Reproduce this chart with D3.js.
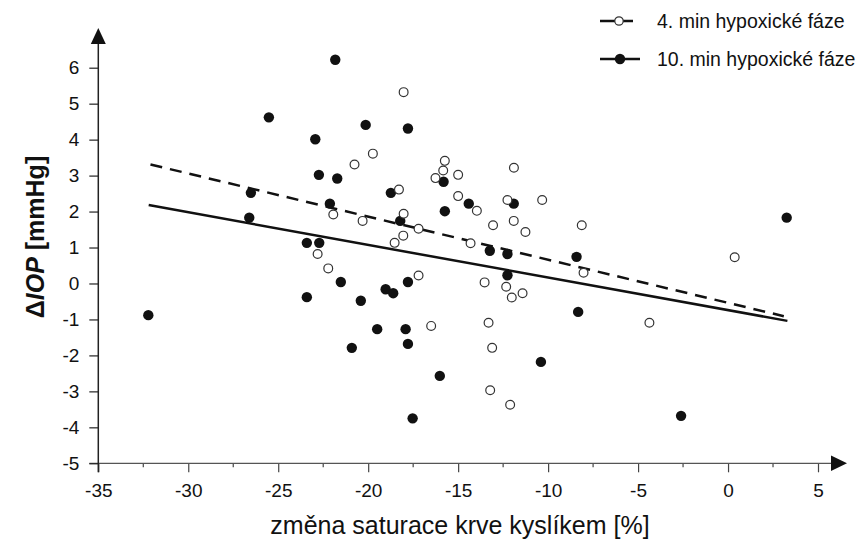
<!DOCTYPE html>
<html>
<head>
<meta charset="utf-8">
<script src="https://cdn.jsdelivr.net/npm/d3@7"></script>
<style>
  body { margin: 0; background: #fff; }
  svg text { font-family: "Liberation Sans", Arial, sans-serif; fill: #111; }
</style>
</head>
<body>
<div id="chart"></div>
<script>
// 4. min hypoxicke faze (open circles)
var x4 = [-18.03, -19.74, -20.76, -15.74, -15.83, -16.26, -18.29, -21.94, -20.31, -18.03,
          -17.2, -18.05, -22.81, -18.53, -22.22, -17.2, -16.5, -15.0, -11.9, -15.0,
          -13.96, -12.26, -10.33, -13.06, -11.91, -11.26, -8.13, -14.31, -8.03, -13.53,
          -12.33, -11.42, -12.02, -13.31, -13.11, -13.22, -12.11, 0.37, -4.37];
var y4 = [5.32, 3.61, 3.31, 3.41, 3.14, 2.93, 2.61, 1.92, 1.74, 1.94,
          1.52, 1.33, 0.82, 1.13, 0.42, 0.22, -1.18, 3.02, 3.22, 2.43,
          2.02, 2.32, 2.32, 1.62, 1.74, 1.43, 1.62, 1.12, 0.30, 0.03,
          -0.09, -0.27, -0.39, -1.09, -1.79, -2.97, -3.37, 0.73, -1.09];

// 10. min hypoxicke faze (filled circles)
var x10 = [-32.22, -26.52, -26.61, -25.52, -21.83, -20.14, -17.79, -22.94, -15.81, -22.74,
           -21.72, -18.74, -22.13, -18.22, -15.74, -23.41, -22.72, -21.52, -23.41, -19.03,
           -18.61, -17.79, -20.41, -19.5, -17.92, -17.79, -20.91, -16.02, -17.53, -14.41,
           -11.91, -13.24, -12.26, -8.42, -12.26, -8.33, -10.4, 3.26, -2.61];
var y10 = [-0.88, 2.52, 1.83, 4.62, 6.22, 4.41, 4.31, 4.01, 2.83, 3.02,
           2.92, 2.52, 2.22, 1.74, 2.01, 1.13, 1.13, 0.04, -0.38, -0.16,
           -0.27, 0.04, -0.48, -1.27, -1.27, -1.68, -1.79, -2.57, -3.75, 2.22,
           2.22, 0.91, 0.82, 0.74, 0.23, -0.79, -2.18, 1.83, -3.68];

// regression lines (end points)
var fitX4 = [-32.1, 3.1], fitY4 = [3.31, -0.91];
var fitX10 = [-32.2, 3.3], fitY10 = [2.18, -1.04];

var xTicks = [-35, -30, -25, -20, -15, -10, -5, 0, 5];
var xMinor = [-32.5, -27.5, -22.5, -17.5, -12.5, -7.5, -2.5, 2.5];
var yTicks = [-5, -4, -3, -2, -1, 0, 1, 2, 3, 4, 5, 6];
var legendLabels = ["4. min hypoxické fáze", "10. min hypoxické fáze"];

var w = 862, h = 544;
var svg = d3.select("#chart").append("svg").attr("width", w).attr("height", h);

var x = d3.scaleLinear().domain([-35, 5]).range([98.3, 818]);
var y = d3.scaleLinear().domain([-5, 6]).range([463.3, 67.7]);

var y0 = y(-5), x0 = x(-35);

// x axis
var xAxis = d3.axisBottom(x).tickValues(xTicks).tickSize(9).tickPadding(11)
    .tickFormat(function(d) { return String(d); });
var gx = svg.append("g").attr("transform", "translate(0," + y0 + ")").call(xAxis);
gx.select(".domain").remove();
gx.selectAll("line").attr("stroke", "#444").attr("stroke-width", 1.2);
gx.selectAll("text").style("font-size", "19px").attr("fill", "#111");
gx.selectAll(".minor").data(xMinor).enter().append("line")
    .attr("x1", function(d) { return x(d); }).attr("x2", function(d) { return x(d); })
    .attr("y1", 0).attr("y2", 4).attr("stroke", "#444").attr("stroke-width", 1.2);
svg.append("line").attr("x1", x0 - 9).attr("x2", 832).attr("y1", y0).attr("y2", y0)
    .attr("stroke", "#555").attr("stroke-width", 1.3);
svg.append("path").attr("d", "M831,455.5L847," + y0 + "L831,471Z").attr("fill", "#111");

// y axis
var yAxis = d3.axisLeft(y).tickValues(yTicks).tickSize(9).tickPadding(10)
    .tickFormat(function(d) { return String(d); });
var gy = svg.append("g").attr("transform", "translate(" + x0 + ",0)").call(yAxis);
gy.select(".domain").remove();
gy.selectAll("line").attr("stroke", "#222").attr("stroke-width", 1.2);
gy.selectAll("text").style("font-size", "19px").attr("fill", "#111");
svg.append("line").attr("x1", x0).attr("x2", x0).attr("y1", y0 + 9).attr("y2", 44)
    .attr("stroke", "#222").attr("stroke-width", 1.5);
svg.append("path").attr("d", "M" + (x0 - 7.5) + ",44L" + x0 + ",28L" + (x0 + 7.5) + ",44Z").attr("fill", "#111");

// axis titles
svg.append("text").attr("x", 460).attr("y", 534).attr("text-anchor", "middle")
    .style("font-size", "25px").text("změna saturace krve kyslíkem [%]");
var yt = svg.append("text").attr("transform", "translate(44,237) rotate(-90)")
    .attr("text-anchor", "middle").style("font-size", "25px").style("font-weight", "bold");
yt.append("tspan").text("Δ");
yt.append("tspan").style("font-style", "italic").text("IOP");
yt.append("tspan").text(" [mmHg]");

// regression lines
var line = d3.line().x(function(d) { return x(d[0]); }).y(function(d) { return y(d[1]); });
svg.append("path").datum(d3.zip(fitX10, fitY10)).attr("d", line)
    .attr("fill", "none").attr("stroke", "#111").attr("stroke-width", 2.5);
svg.append("path").datum(d3.zip(fitX4, fitY4)).attr("d", line)
    .attr("fill", "none").attr("stroke", "#111").attr("stroke-width", 2.5)
    .attr("stroke-dasharray", "12,8");

// points
svg.selectAll(".p10").data(d3.zip(x10, y10)).enter().append("circle")
    .attr("cx", function(d) { return x(d[0]); }).attr("cy", function(d) { return y(d[1]); })
    .attr("r", 5.2).attr("fill", "#111");
svg.selectAll(".p4").data(d3.zip(x4, y4)).enter().append("circle")
    .attr("cx", function(d) { return x(d[0]); }).attr("cy", function(d) { return y(d[1]); })
    .attr("r", 4.4).attr("fill", "#fff").attr("stroke", "#333").attr("stroke-width", 1.2);

// legend
var ly = [21, 59];
svg.append("line").attr("x1", 600).attr("x2", 633).attr("y1", ly[0]).attr("y2", ly[0])
    .attr("stroke", "#111").attr("stroke-width", 2.5);
svg.append("circle").attr("cx", 619).attr("cy", ly[0]).attr("r", 4.2)
    .attr("fill", "#fff").attr("stroke", "#333").attr("stroke-width", 1.2);
svg.append("line").attr("x1", 600).attr("x2", 640).attr("y1", ly[1]).attr("y2", ly[1])
    .attr("stroke", "#111").attr("stroke-width", 2.5);
svg.append("circle").attr("cx", 620).attr("cy", ly[1]).attr("r", 5.2).attr("fill", "#111");
svg.selectAll(".leg").data(legendLabels).enter().append("text")
    .attr("x", 657).attr("y", function(d, i) { return ly[i] + 7; })
    .style("font-size", "19.5px").text(function(d) { return d; });
</script>
</body>
</html>
